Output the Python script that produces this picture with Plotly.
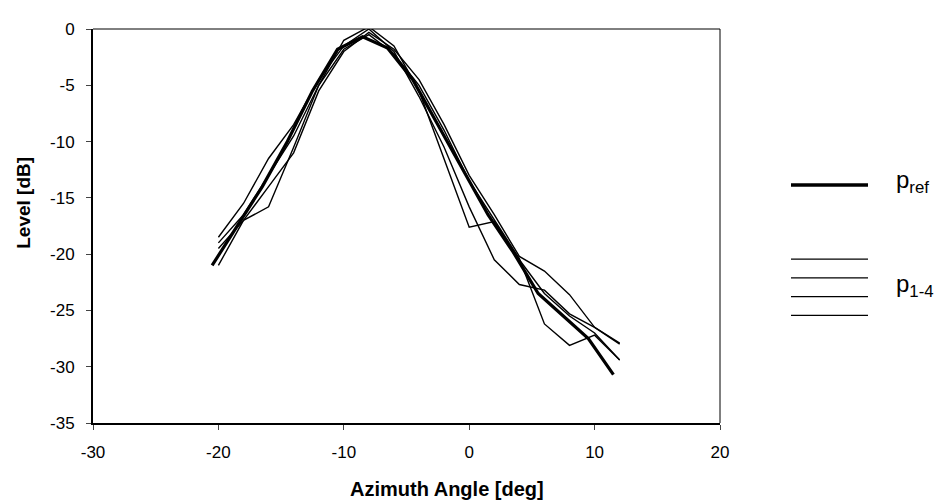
import plotly.graph_objects as go

# Reference pattern p_ref (thick)
pref_x = [-20.5, -18.5, -16.5, -14.5, -12.5, -10.5, -8.5, -6.5, -4.5, -2.5, -0.5, 1.5, 3.5, 5.5, 7.5, 9.5, 11.5]
pref_y = [-21.0, -17.5, -14.0, -10.0, -5.5, -1.8, -0.7, -1.7, -4.5, -8.5, -12.5, -16.5, -19.8, -23.5, -25.5, -27.5, -30.7]

# Individual patterns p1..p4 (thin)
p_x = [-20, -18, -16, -14, -12, -10, -8, -6, -4, -2, 0, 2, 4, 6, 8, 10, 12]
p1_y = [-21.0, -17.0, -15.8, -10.5, -5.0, -1.0, 0.2, -1.5, -5.5, -11.5, -17.6, -17.1, -20.5, -23.5, -25.5, -27.0, -29.4]
p2_y = [-18.5, -15.5, -11.5, -8.5, -4.5, -1.5, 0.0, -2.0, -6.0, -10.5, -15.8, -20.5, -22.7, -23.2, -25.3, -26.5, -28.0]
p3_y = [-19.0, -16.5, -13.0, -9.5, -5.0, -1.8, -0.5, -2.2, -5.0, -9.0, -13.5, -17.0, -20.4, -26.2, -28.1, -27.2, -29.4]
p4_y = [-19.5, -17.0, -14.0, -11.0, -5.5, -2.0, -0.3, -1.8, -4.5, -8.5, -13.0, -16.5, -20.2, -21.5, -23.6, -26.5, -27.9]

x_ticks = [-30, -20, -10, 0, 10, 20]
x_labels = ["-30", "-20", "-10", "0", "10", "20"]
y_ticks = [0, -5, -10, -15, -20, -25, -30, -35]
y_labels = ["0", "-5", "-10", "-15", "-20", "-25", "-30", "-35"]

x_title = "Azimuth Angle [deg]"
y_title = "Level [dB]"

fig = go.Figure()
for ys in [p1_y, p2_y, p3_y, p4_y]:
    fig.add_trace(go.Scatter(x=p_x, y=ys, mode="lines",
                             line=dict(color="black", width=1.4),
                             showlegend=False, hoverinfo="skip"))
fig.add_trace(go.Scatter(x=pref_x, y=pref_y, mode="lines",
                         line=dict(color="black", width=3.2),
                         showlegend=False))

font = "Liberation Sans, Arial, sans-serif"

PL, PT, PW, PH = 85, 16, 627, 399   # plot area in figure px (page adds 8px offset)

def px_x(v):
    return (v - 8 - PL) / PW

def px_y(v):
    return (PT + PH - (v - 8)) / PH

shapes = [
    # thin top and right frame of the plot area
    dict(type="line", xref="paper", yref="paper", x0=0, x1=1, y0=1, y1=1,
         line=dict(color="black", width=1)),
    dict(type="line", xref="paper", yref="paper", x0=1, x1=1, y0=0, y1=1,
         line=dict(color="black", width=1)),
    # legend samples
    dict(type="line", xref="paper", yref="paper",
         x0=px_x(791), x1=px_x(868), y0=px_y(182), y1=px_y(182),
         line=dict(color="black", width=3.5)),
]
for yy in [257, 276, 295, 314]:
    shapes.append(dict(type="line", xref="paper", yref="paper",
                       x0=px_x(791), x1=px_x(868), y0=px_y(yy), y1=px_y(yy),
                       line=dict(color="black", width=1.2)))

annotations = [
    dict(xref="paper", yref="paper", x=px_x(894), y=px_y(178),
         text="p<sub>ref</sub>", showarrow=False, xanchor="left", yanchor="middle",
         font=dict(family=font, size=24, color="black")),
    dict(xref="paper", yref="paper", x=px_x(894), y=px_y(284),
         text="p<sub>1-4</sub>", showarrow=False, xanchor="left", yanchor="middle",
         font=dict(family=font, size=24, color="black")),
    dict(xref="paper", yref="paper", x=px_x(447), y=px_y(490),
         text="<b>" + x_title + "</b>", showarrow=False, xanchor="center", yanchor="middle",
         font=dict(family=font, size=20, color="black")),
    dict(xref="paper", yref="paper", x=px_x(24), y=px_y(200),
         text="<b>" + y_title + "</b>", showarrow=False, xanchor="center", yanchor="middle",
         textangle=-90, font=dict(family=font, size=19, color="black")),
]

fig.update_layout(
    width=946, height=504,
    margin=dict(l=PL, r=946 - PL - PW, t=PT, b=504 - PT - PH),
    paper_bgcolor="white", plot_bgcolor="white",
    font=dict(family=font, size=17, color="black"),
    shapes=shapes, annotations=annotations,
    showlegend=False,
)
fig.update_xaxes(range=[-30, 20], tickvals=x_ticks, ticktext=x_labels,
                 ticks="outside", ticklen=5, ticklabelstandoff=8,
                 showline=True, linecolor="black", linewidth=1.8, mirror=False,
                 showgrid=False, zeroline=False, tickfont=dict(size=17))
fig.update_yaxes(range=[-35, 0], tickvals=y_ticks, ticktext=y_labels,
                 ticks="outside", ticklen=5, ticklabelstandoff=8,
                 showline=True, linecolor="black", linewidth=1.8, mirror=False,
                 showgrid=False, zeroline=False, tickfont=dict(size=17))

fig.write_html("out.html")
